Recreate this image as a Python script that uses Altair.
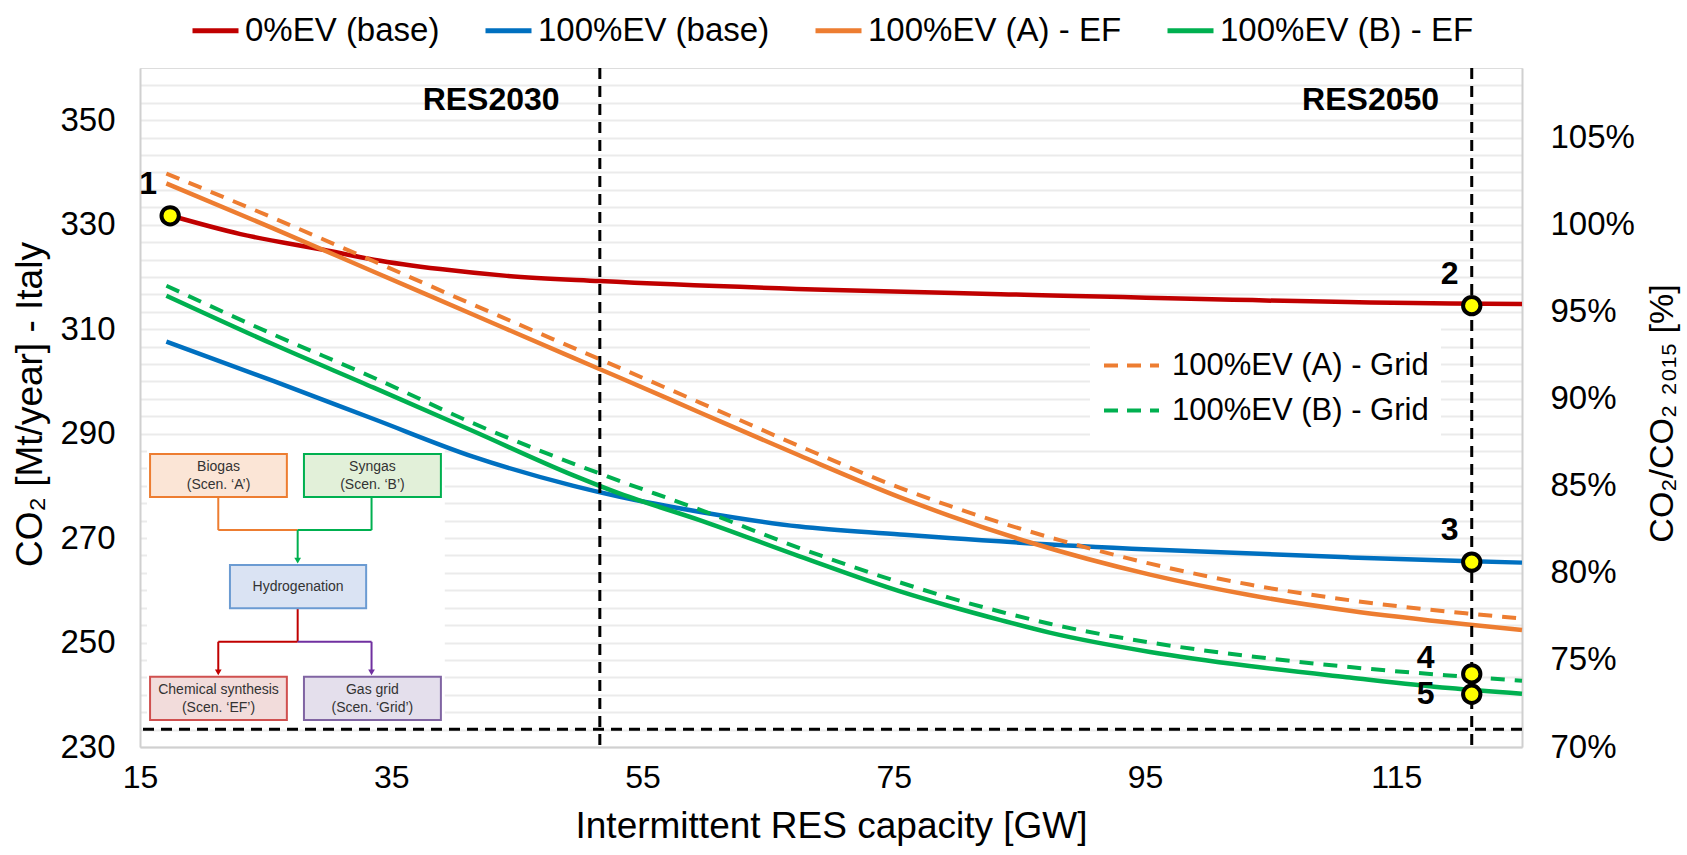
import altair as alt
import pandas as pd

FONT = "Liberation Sans, Arial, Helvetica, sans-serif"

# ---------------- data ----------------
series_solid = ["0%EV (base)", "100%EV (base)", "100%EV (A) - EF", "100%EV (B) - EF"]
colors_solid = ["#c00000", "#0070c0", "#ed7d31", "#00b050"]
widths_solid = [4.5, 4.5, 3.5, 4.5]
series_dash = ["100%EV (A) - Grid", "100%EV (B) - Grid"]
colors_dash = ["#ed7d31", "#00b050"]

red_x = [17.2, 23.0, 29.6, 33.6, 38.9, 44.2, 51.6, 70.2, 83.5, 119.3, 125.0]
red_y = [331.9, 328.2, 325.2, 323.3, 321.5, 320.2, 319.2, 317.5, 316.7, 314.9, 314.8]
blue_x = [17.1, 25.6, 33.6, 41.5, 49.5, 53.2, 59.6, 67.5, 75.5, 79.4, 95.4, 111.3, 120.3, 125.0]
blue_y = [307.6, 300.1, 292.8, 285.6, 280.0, 277.9, 275.0, 272.2, 270.7, 270.0, 267.8, 266.3, 265.6, 265.3]
ora_x = [17.1, 25.6, 33.6, 41.5, 49.5, 53.2, 59.6, 67.5, 75.5, 79.4, 85.8, 95.4, 103.3, 111.3, 120.5, 125.0]
ora_y = [337.9, 329.3, 321.0, 312.8, 304.5, 300.7, 294.0, 285.8, 277.8, 274.3, 269.2, 263.0, 259.1, 256.1, 253.5, 252.4]
grb_x = [17.1, 25.6, 33.6, 41.5, 49.5, 53.2, 59.6, 67.5, 75.5, 79.4, 83.5, 87.4, 95.4, 103.3, 111.3, 119.2, 125.0]
grb_y = [316.4, 307.1, 298.8, 290.5, 282.0, 278.5, 273.4, 266.5, 259.8, 257.0, 254.3, 251.9, 248.2, 245.5, 243.3, 241.3, 240.2]
ora_grid_x = [17.1, 25.6, 33.6, 41.5, 52.2, 59.6, 67.5, 75.5, 79.4, 88.2, 95.4, 103.3, 111.3, 120.5, 125.0]
ora_grid_y = [339.8, 331.3, 323.0, 314.7, 303.6, 295.9, 287.6, 279.6, 276.2, 269.6, 265.1, 261.1, 258.1, 255.6, 254.6]
grb_grid_x = [17.1, 25.6, 33.6, 41.5, 52.2, 59.6, 67.5, 75.5, 79.4, 83.5, 87.4, 95.4, 103.3, 111.3, 119.2, 125.0]
grb_grid_y = [318.3, 309.0, 300.7, 292.0, 281.8, 275.4, 268.1, 261.5, 258.6, 255.9, 253.6, 250.0, 247.4, 245.3, 243.7, 242.7]

point_labels = ["1", "2", "3", "4", "5"]
point_x = [17.4, 121.0, 121.0, 121.0, 121.0]
point_y = [331.7, 314.5, 265.4, 244.0, 240.1]

res_names = ["RES2030", "RES2050"]
res_x = [51.6, 121.0]
res_label_x = [48.4, 118.4]
res_label_y = [353.8, 353.8]
target_y = [233.4]

x_ticks = [15, 35, 55, 75, 95, 115]
y_ticks = [230, 250, 270, 290, 310, 330, 350]
pct_grid = [round(v / 100, 2) for v in range(70, 109)]

# inset flow diagram (laid out in the chart's data units)
inset_bg = [[15.56, 39.26, 234.3, 286.9]]
box_names = ["Biogas", "Syngas", "Hydrogenation", "Chemical synthesis", "Gas grid"]
box_x1 = [15.80, 28.05, 22.16, 15.80, 28.05]
box_x2 = [26.69, 38.95, 33.00, 26.69, 38.95]
box_y1 = [277.85, 277.85, 256.55, 235.17, 235.17]
box_y2 = [286.08, 286.08, 264.83, 243.45, 243.45]
box_fill = ["#fbe5d6", "#e2f0d9", "#dae3f3", "#f2dcdb", "#e4dfec"]
box_stroke = ["#ed7d31", "#00b050", "#6b9bd2", "#d0504f", "#8064a2"]

seg_x1 = [21.23, 21.23, 33.43, 33.43, 27.55, 27.55, 27.55, 21.23, 27.55, 33.43]
seg_x2 = [21.23, 27.55, 33.43, 27.55, 27.55, 27.55, 21.23, 21.23, 33.43, 33.43]
seg_y1 = [277.85, 271.53, 277.85, 271.53, 271.53, 256.55, 250.15, 250.15, 250.15, 250.15]
seg_y2 = [271.53, 271.53, 271.53, 271.53, 265.6, 250.15, 250.15, 244.2, 250.15, 244.2]
seg_color = ["#ed7d31", "#ed7d31", "#00b050", "#00b050", "#00b050",
             "#c00000", "#c00000", "#c00000", "#7030a0", "#7030a0"]
arrow_x = [27.55, 21.23, 33.43]
arrow_y = [265.7, 244.3, 244.3]
arrow_color = ["#00b050", "#c00000", "#7030a0"]

inset_text = ["Biogas", "(Scen. \u2018A\u2019)", "Syngas", "(Scen. \u2018B\u2019)", "Hydrogenation",
              "Chemical synthesis", "(Scen. \u2018EF\u2019)", "Gas grid", "(Scen. \u2018Grid\u2019)"]
inset_text_x = [21.25, 21.25, 33.5, 33.5, 27.58, 21.25, 21.25, 33.5, 33.5]
inset_text_y = [283.6, 280.1, 283.6, 280.1, 260.7, 240.9, 237.4, 240.9, 237.4]

# ---------------- tables ----------------
def long(xs, ys, name):
    return pd.DataFrame({"x": xs, "co2": ys, "series": name})

solid_df = pd.concat([long(red_x, red_y, series_solid[0]), long(blue_x, blue_y, series_solid[1]),
                      long(ora_x, ora_y, series_solid[2]), long(grb_x, grb_y, series_solid[3])])
dash_df = pd.concat([long(ora_grid_x, ora_grid_y, series_dash[0]),
                     long(grb_grid_x, grb_grid_y, series_dash[1])])
points_df = pd.DataFrame({"x": point_x, "co2": point_y, "label": point_labels})
res_df = pd.DataFrame({"x": res_x, "lx": res_label_x, "ly": res_label_y, "name": res_names})
target_df = pd.DataFrame({"co2": target_y})
bg_df = pd.DataFrame(inset_bg, columns=["x1", "x2", "y1", "y2"])
box_df = pd.DataFrame({"name": box_names, "x1": box_x1, "x2": box_x2, "y1": box_y1, "y2": box_y2,
                       "fill": box_fill, "stroke": box_stroke})
seg_df = pd.DataFrame({"x1": seg_x1, "x2": seg_x2, "y1": seg_y1, "y2": seg_y2, "c": seg_color})
arrow_df = pd.DataFrame({"x": arrow_x, "y": arrow_y, "c": arrow_color})
itext_df = pd.DataFrame({"t": inset_text, "x": inset_text_x, "y": inset_text_y})

XS = alt.Scale(domain=[15, 125], nice=False, zero=False)
YS = alt.Scale(domain=[230, 360], nice=False, zero=False)

x_axis = alt.Axis(values=x_ticks, title="Intermittent RES capacity [GW]", grid=False, ticks=False,
                  domainColor="#d0d0d0", domainWidth=2, labelFontSize=32, labelPadding=15,
                  labelColor="black", labelFlush=False, titleFontSize=37, titleFontWeight="normal",
                  titleColor="black", titleY=79, titleX=691, titleAlign="center", titleBaseline="middle")
y_axis = alt.Axis(values=y_ticks, title="CO\u2082 [Mt/year] - Italy", grid=False, ticks=False,
                  domainColor="#d0d0d0", domainWidth=2, labelFontSize=33, labelPadding=25,
                  labelColor="black", labelFlush=False, titleFontSize=37, titleFontWeight="normal",
                  titleColor="black", titleX=-110, titleY=336, titleAngle=270,
                  titleAlign="center", titleBaseline="middle")


def XA(f):
    return alt.X(f, scale=XS, axis=x_axis)


def YA(f):
    return alt.Y(f, scale=YS, axis=y_axis)


bg = alt.Chart(bg_df).mark_rect(color="white").encode(
    x=XA("x1:Q"), x2="x2:Q", y=YA("y1:Q"), y2="y2:Q")
segs = alt.Chart(seg_df).mark_rule(strokeWidth=2).encode(
    x=XA("x1:Q"), x2="x2:Q", y=YA("y1:Q"), y2="y2:Q", stroke=alt.Stroke("c:N", scale=None))
boxes = alt.Chart(box_df).mark_rect(strokeWidth=2).encode(
    x=XA("x1:Q"), x2="x2:Q", y=YA("y1:Q"), y2="y2:Q",
    fill=alt.Fill("fill:N", scale=None), stroke=alt.Stroke("stroke:N", scale=None))
arrows = alt.Chart(arrow_df).mark_point(shape="triangle-down", filled=True, size=45, opacity=1).encode(
    x=XA("x:Q"), y=YA("y:Q"), fill=alt.Fill("c:N", scale=None))
itext = alt.Chart(itext_df).mark_text(fontSize=14, color="#333333", font=FONT,
                                      baseline="middle", align="center").encode(
    x=XA("x:Q"), y=YA("y:Q"), text="t:N")

solid = alt.Chart(solid_df).mark_line(interpolate="monotone").encode(
    x=XA("x:Q"),
    y=YA("co2:Q"),
    color=alt.Color("series:N", sort=series_solid,
                    scale=alt.Scale(domain=series_solid, range=colors_solid),
                    legend=alt.Legend(orient="none", legendX=50, legendY=-63, direction="horizontal",
                                      columns=4, title=None, symbolType="stroke", symbolSize=2116,
                                      symbolStrokeWidth=5, labelFontSize=33, labelColor="black",
                                      columnPadding=35, labelOffset=4, padding=0, labelLimit=400)),
    strokeWidth=alt.StrokeWidth("series:N", scale=alt.Scale(domain=series_solid, range=widths_solid),
                                legend=None),
)
dashed = alt.Chart(dash_df).mark_line(interpolate="monotone", strokeDash=[14, 10], strokeWidth=4).encode(
    x=XA("x:Q"),
    y=YA("co2:Q"),
    color=alt.Color("series:N", sort=series_dash,
                    scale=alt.Scale(domain=series_dash, range=colors_dash),
                    legend=alt.Legend(orient="none", legendX=950, legendY=256, direction="vertical",
                                      title=None, symbolType="stroke", symbolSize=3025,
                                      symbolStrokeWidth=4, symbolDash=[14, 9], labelFontSize=31,
                                      labelColor="black", labelOffset=11, fillColor="white",
                                      padding=12, rowPadding=-6, labelLimit=400)),
)
vlines = alt.Chart(res_df).mark_rule(color="black", strokeWidth=3, strokeDash=[11, 7]).encode(x=XA("x:Q"))
hline = alt.Chart(target_df).mark_rule(color="black", strokeWidth=3, strokeDash=[11, 7]).encode(y=YA("co2:Q"))
res_text = alt.Chart(res_df).mark_text(fontSize=32, fontWeight="bold", font=FONT, align="right",
                                       baseline="middle", color="black").encode(
    x=XA("lx:Q"), y=YA("ly:Q"), text="name:N")
pts = alt.Chart(points_df).mark_point(filled=True, fill="#ffff00", stroke="black", strokeWidth=4,
                                      size=300, opacity=1).encode(x=XA("x:Q"), y=YA("co2:Q"))
lab_base = alt.Chart(points_df).encode(x=XA("x:Q"), y=YA("co2:Q"), text="label:N")
lab_kw = dict(fontSize=32, fontWeight="bold", font=FONT, align="center", baseline="middle", color="black")
lab_a = lab_base.mark_text(dx=-22, dy=-32, **lab_kw).transform_filter(
    alt.FieldOneOfPredicate(field="label", oneOf=["1", "2", "3"]))
lab_b = lab_base.mark_text(dx=-46, dy=-16, **lab_kw).transform_filter(
    alt.FieldEqualPredicate(field="label", equal="4"))
lab_c = lab_base.mark_text(dx=-46, dy=0, **lab_kw).transform_filter(
    alt.FieldEqualPredicate(field="label", equal="5"))

inner = alt.layer(bg, segs, boxes, arrows, itext, solid, dashed, vlines, hline, res_text,
                  pts, lab_a, lab_b, lab_c).resolve_scale(color="independent")

pct_df = pd.DataFrame({"pct": pct_grid})
right = alt.Chart(pct_df).mark_rule(opacity=0).encode(
    y=alt.Y("pct:Q", scale=alt.Scale(domain=[0.70, 1.09], nice=False, zero=False),
            axis=alt.Axis(orient="right", values=pct_grid, grid=True, gridColor="#ebebeb", gridWidth=2,
                          ticks=False, domainColor="#d0d0d0", domainWidth=2, labelFontSize=33,
                          labelPadding=28, labelColor="black", labelFlush=False, labelOverlap=False,
                          labelExpr="round(datum.value*100) % 5 == 0 ? round(datum.value*100) + '%' : ''",
                          title="CO\u2082/CO\u2082 \u2082\u2080\u2081\u2085 [%]", titleFontSize=34,
                          titleFontWeight="normal", titleColor="black", titleX=140, titleY=345,
                          titleAngle=270, titleAlign="center", titleBaseline="middle")))

chart = alt.layer(inner, right).resolve_scale(y="independent").properties(
    width=1382, height=679,
    padding={"left": 140, "top": 68, "right": 165, "bottom": 108},
    autosize=alt.AutoSizeParams(type="none"),
).configure_view(stroke=None).configure_axis(labelFont=FONT, titleFont=FONT).configure_legend(
    labelFont=FONT).configure(background="white")

chart.save("out.html", embed_options={"renderer": "svg", "actions": False})
